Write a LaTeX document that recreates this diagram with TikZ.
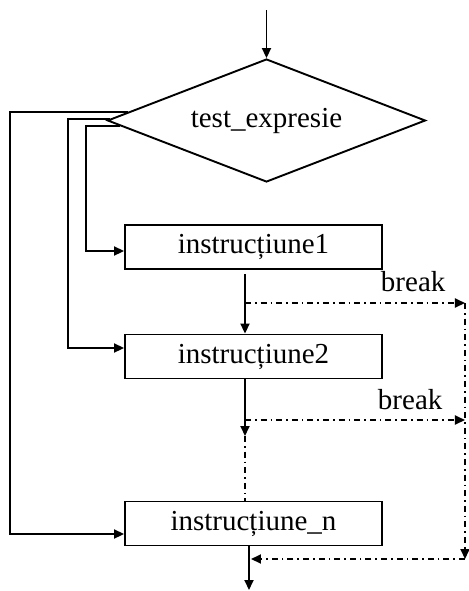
\documentclass[tikz,border=0pt]{standalone}
\usepackage{fontspec}
\setmainfont{Liberation Serif}
\usetikzlibrary{shapes.geometric,arrows.meta}
\begin{document}
\begin{tikzpicture}[x=0.5pt,y=-0.5pt,
  line width=0.95pt,
  arr/.style={-{Triangle[length=5pt,width=4.5pt]}},
  dd/.style={dash pattern=on 3pt off 2pt on 0.8pt off 2pt},
  txt/.style={font=\fontsize{14.5}{17}\selectfont},
  box/.style={draw, txt, minimum width=128.5pt, minimum height=22pt, inner sep=0pt},
  dia/.style={draw, txt, diamond, aspect=2.585, minimum width=159pt, minimum height=61.5pt, inner sep=0pt}
]
\useasboundingbox (0,0) rectangle (468,591);

\node[dia] (d) at (266.5,120.5) {test\_expresie};
\node[box] (b1) at (253.5,247) {instrucțiune1};
\node[box] (b2) at (253.5,356.5) {instrucțiune2};
\node[box] (bn) at (253.5,523.5) {instrucțiune\_n};
\node[txt, anchor=base east] (l1) at (453,291) {break};
\node[txt, anchor=base east] (l2) at (450,409) {break};

\coordinate (top) at (266.5,10);
\coordinate (e1) at (128,112);
\coordinate (e2) at (110,119);
\coordinate (e3) at (120,126);
\coordinate (k1) at (245,303);
\coordinate (r1) at (465,303);
\coordinate (k2) at (245,420);
\coordinate (r2) at (465,420);
\coordinate (r3) at (465,559);
\coordinate (rt) at (251,559);
\coordinate (m) at (245,436);
\coordinate (out) at (249,590);

\draw[arr] (top) -- (d.north);
\draw[arr] (e1) -- (10,112) |- ([yshift=-5.25pt]bn.west);
\draw[arr] (e2) -- (68,119) |- ([yshift=4.25pt]b2.west);
\draw[arr] (e3) -- (86,126) |- ([yshift=-2pt]b1.west);

\draw[arr] ([xshift=-4.25pt,yshift=-2pt]b1.south) -- ([xshift=-4.25pt]b2.north);
\draw[arr] ([xshift=-4.25pt]b2.south) -- (m);
\draw[dd] (m) -- (bn.north -| m);
\draw[arr] ([xshift=-2.25pt]bn.south) -- (out);

\draw[dd,arr] (k1) -- (r1);
\draw[dd,arr] (k2) -- (r2);
\draw[dd,arr] (r1) -- (r3);
\draw[dd,arr] (r3) -- (rt);
\end{tikzpicture}
\end{document}
